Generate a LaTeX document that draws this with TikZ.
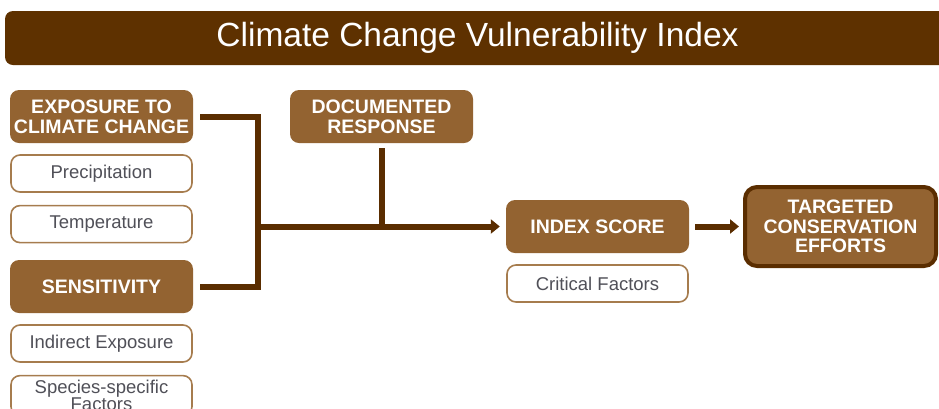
\documentclass[tikz,border=0pt]{standalone}
\usepackage{fontspec}
\setmainfont{Liberation Sans}
\usetikzlibrary{positioning,arrows.meta}
\definecolor{titlebrown}{HTML}{5E3100}
\definecolor{boxbrown}{HTML}{936331}
\definecolor{edgebrown}{HTML}{A67C4E}
\definecolor{linkbrown}{HTML}{5A2D00}
\definecolor{subtext}{HTML}{505058}

\begin{document}
\begin{tikzpicture}[x=1pt,y=-1pt,node distance=10pt]
       \tikzstyle{head} = [rectangle, rounded corners=9pt, fill=boxbrown, text=white, minimum width=183pt, minimum height=53pt, inner sep=0pt, align=center, font=\fontsize{19.5}{20}\selectfont\bfseries];
       \tikzstyle{sub} = [rectangle, rounded corners=9pt, draw=edgebrown, line width=1.6pt, fill=white, text=subtext, minimum width=181pt, minimum height=37pt, inner sep=0pt, align=center, font=\fontsize{18.5}{19}\selectfont];
       \tikzstyle{link} = [draw=linkbrown, line width=6pt];
       \tikzstyle{go} = [link, -{Triangle[length=9pt,width=14pt]}];
       \useasboundingbox (0,0) rectangle (939,408);
       % banner
       \node[rectangle, rounded corners=8pt, fill=titlebrown, text=white, minimum width=945pt, minimum height=54pt, inner sep=0pt, font=\fontsize{33.5}{36}\selectfont] (title) at (477.5,38) {Climate Change Vulnerability Index};
       % left column
       \node[head] (exposure) at (101.5,116.5) {EXPOSURE TO\\CLIMATE CHANGE};
       \node[sub] (precip) [below=11pt of exposure] {Precipitation};
       \node[sub] (temp) [below=12pt of precip] {Temperature};
       \node[head] (sens) at (101.5,286.5) {SENSITIVITY};
       \node[sub] (indirect) [below=11pt of sens] {Indirect Exposure};
       \node[sub, minimum height=40pt, font=\fontsize{18.5}{17}\selectfont] (species) [below=12pt of indirect] {Species-specific\\Factors};
       % middle and right
       \node[head] (documented) at (381.5,116.5) {DOCUMENTED\\RESPONSE};
       \node[head] (index) at (597.5,226.5) {INDEX SCORE};
       \node[sub] (critical) [below=11pt of index] {Critical Factors};
       \node[head, draw=linkbrown, line width=4pt, rounded corners=12pt, minimum width=191pt, minimum height=79pt, font=\fontsize{19.5}{19.5}\selectfont\bfseries] (targeted) at (840.5,226.5) {TARGETED\\CONSERVATION\\EFFORTS};
       \coordinate (bend) at (258,226.5);

       \draw[link] ([xshift=7pt]exposure.east) -| (bend |- sens.east) -- ([xshift=7pt]sens.east);
       \draw[go] (bend) -- ([xshift=-6pt]index.west);
       \draw[link] ([yshift=-5pt]documented.south) -- (documented.south |- bend);
       \draw[go] ([xshift=6pt]index.east) -- ([xshift=-4pt]targeted.west);
     \end{tikzpicture}
\end{document}
